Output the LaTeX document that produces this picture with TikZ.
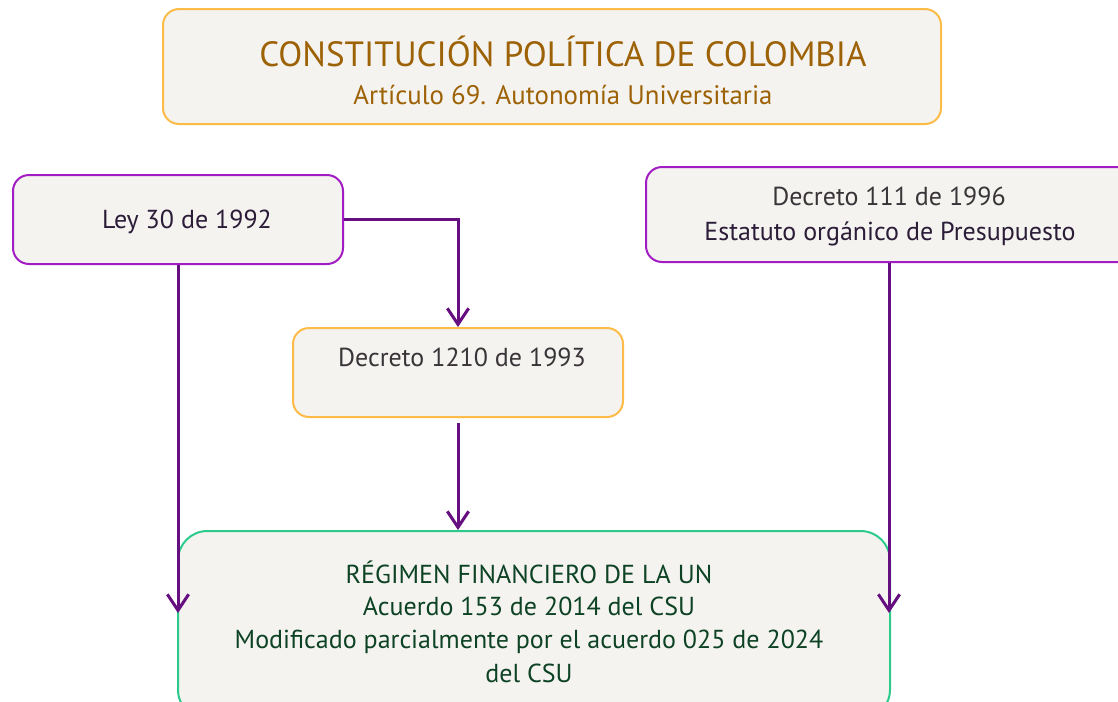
\documentclass[tikz,border=0pt]{standalone}
\usepackage{fontspec}
\setmainfont{PT Sans}
\usetikzlibrary{arrows.meta}
\definecolor{boxfill}{HTML}{F5F3F0}
\definecolor{gold}{HTML}{FDBB48}
\definecolor{lineviolet}{HTML}{A21CC4}
\definecolor{arrowpurple}{HTML}{650F80}
\definecolor{mint}{HTML}{2CCB8C}
\definecolor{titlebrown}{HTML}{9C6205}
\definecolor{darktext}{HTML}{2B1C38}
\definecolor{greytext}{HTML}{383438}
\definecolor{greentext}{HTML}{0D4324}
\tikzset{
  box/.style={draw, fill=boxfill, line width=1.5pt, rounded corners=12pt, inner sep=0pt},
  link/.style={draw=arrowpurple, line width=2.25pt, -{Straight Barb[length=12pt,width=16pt]}},
  txt/.style={anchor=base, inner sep=0pt, font=\fontsize{19.5}{23}\selectfont}
}
\begin{document}
\begin{tikzpicture}[x=0.75pt,y=-0.75pt]
\useasboundingbox (0,0) rectangle (1118,701);
% boxes
\node[box, draw=gold, minimum width=583.5pt, minimum height=86.25pt] (cpc) at (552,66.5) {};
\node[box, draw=lineviolet, minimum width=247.5pt, minimum height=66.75pt] (ley) at (178,219.5) {};
\node[box, draw=lineviolet, minimum width=390pt, minimum height=71.25pt] (dec111) at (906,214.5) {};
\node[box, draw=gold, minimum width=247.5pt, minimum height=66.75pt] (dec1210) at (458,372.5) {};
\node[box, draw=mint, rounded corners=22pt, minimum width=534pt, minimum height=141pt] (regimen) at (534,625) {};
% texts
\node[txt, text=titlebrown, font=\fontsize{26.3}{30}\selectfont] (cpctitle) at (563,66) {CONSTITUCIÓN POLÍTICA DE COLOMBIA};
\node[txt, text=titlebrown, font=\fontsize{20.1}{24}\selectfont] (cpcsub) at (563,104) {Artículo 69. Autonomía Universitaria};
\node[txt, text=darktext] (leytxt) at (187,228) {Ley 30 de 1992};
\node[txt, text=greytext] (dec111a) at (889,205) {Decreto 111 de 1996};
\node[txt, text=darktext] (dec111b) at (890,240) {Estatuto orgánico de Presupuesto};
\node[txt, text=greytext] (dec1210txt) at (462,366) {Decreto 1210 de 1993};
\foreach \name/\ybase/\line in {rega/583/RÉGIMEN FINANCIERO DE LA UN, regb/615/Acuerdo 153 de 2014 del CSU,
  regc/648/Modificado parcialmente por el acuerdo 025 de 2024, regd/682/del CSU}
{ \node[txt, text=greentext] (\name) at (529,\ybase) {\line};
}
% connectors
\coordinate (tipL) at (178,613);
\coordinate (tipR) at (889,613);
\draw[link] (ley.east) -| (dec1210.north);
\draw[link] (ley.south) -- (tipL);
\draw[link, shorten <=3.75pt] (dec1210.south) -- (dec1210.south |- regimen.north);
\draw[link] (dec111.south -| tipR) -- (tipR);
\end{tikzpicture}
\end{document}
